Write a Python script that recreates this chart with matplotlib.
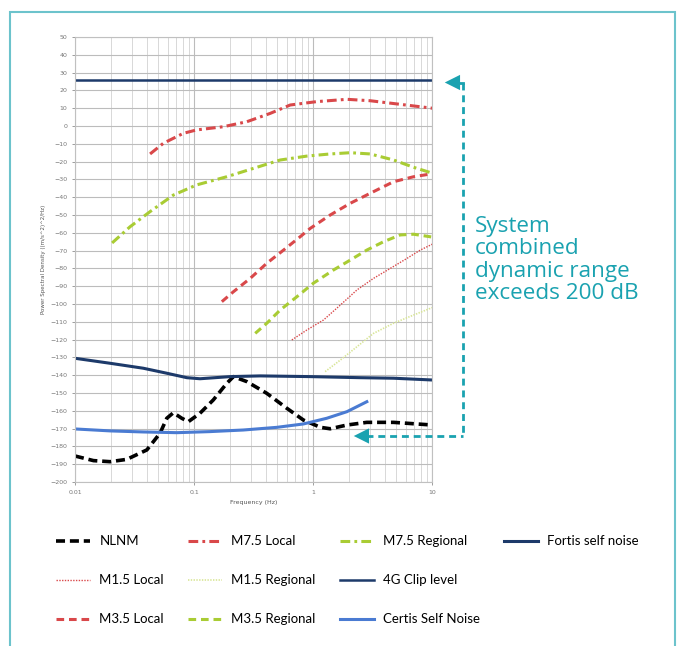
import matplotlib.pyplot as plt
from matplotlib.lines import Line2D
from matplotlib.patches import Rectangle
from matplotlib.ticker import FixedLocator, NullFormatter, LogLocator

plt.rcParams['lines.scale_dashes'] = False

# frequency (Hz) and PSD (dB)
nlnm_f = [0.01, 0.0143, 0.0197, 0.0272, 0.0401, 0.0518, 0.059, 0.067, 0.0788, 0.0896,
          0.112, 0.145, 0.188, 0.214, 0.277, 0.408, 0.601, 0.828, 1.15, 1.39, 1.92,
          2.82, 4.73, 10]
nlnm_db = [-185.4, -188.0, -188.6, -187.3, -182.0, -172.6, -164.2, -161.1, -164.2, -166.1,
           -161.4, -153.9, -144.6, -140.8, -143.6, -150.2, -158.6, -165.2, -169.3, -170.1,
           -168.0, -166.5, -166.5, -168.0]

m75_local_f = [0.0427, 0.0552, 0.0813, 0.105, 0.176, 0.277, 0.436, 0.641, 1.07, 1.92,
               3.01, 5.05, 10]
m75_local_db = [-15.7, -9.7, -4.1, -2.2, -0.4, 2.4, 7.1, 11.8, 13.7, 15.0, 14.2, 12.4, 10.0]

m75_reg_f = [0.0205, 0.029, 0.0427, 0.067, 0.105, 0.188, 0.315, 0.528, 0.885, 1.39,
             2.05, 3.01, 4.73, 6.97, 10]
m75_reg_db = [-65.7, -56.6, -48.1, -38.8, -33.1, -28.5, -23.8, -19.1, -16.9, -15.7,
              -15.0, -15.7, -19.1, -23.2, -26.5]

m35_local_f = [0.171, 0.214, 0.296, 0.408, 0.564, 0.778, 0.945, 1.39, 2.05, 3.01,
               4.73, 6.97, 10]
m35_local_db = [-98.7, -93.1, -85.6, -77.1, -69.7, -62.2, -57.5, -50.0, -43.4, -37.8,
                -31.3, -28.5, -26.8]

m35_reg_f = [0.326, 0.408, 0.528, 0.73, 1.0, 1.48, 2.05, 2.82, 3.9, 5.38, 6.97, 10]
m35_reg_db = [-116.5, -110.8, -103.4, -95.9, -88.4, -80.9, -75.3, -69.7, -65.0, -61.2,
              -60.8, -62.4]

m15_local_f = [0.662, 0.885, 1.22, 1.69, 2.33, 3.21, 4.44, 6.12, 7.93, 10]
m15_local_db = [-120.2, -114.6, -109.0, -100.6, -92.1, -85.6, -80.0, -74.4, -69.7, -66.4]

m15_reg_f = [1.26, 1.69, 2.33, 3.21, 4.73, 6.97, 10]
m15_reg_db = [-138.0, -131.5, -124.0, -116.5, -110.8, -106.2, -102.0]

fortis_f = [0.01, 0.0197, 0.0375, 0.059, 0.0869, 0.112, 0.201, 0.359, 0.945, 2.48, 4.73, 10]
fortis_db = [-130.5, -133.3, -136.1, -138.9, -141.4, -142.0, -140.8, -140.4, -140.8,
             -141.4, -141.7, -142.7]

clip_f = [0.01, 10]
clip_db = [26, 26]

certis_f = [0.01, 0.0197, 0.0375, 0.0716, 0.136, 0.259, 0.495, 0.828, 1.30, 1.92, 2.82]
certis_db = [-170.2, -171.3, -171.9, -172.3, -171.7, -170.8, -169.3, -167.4, -164.2,
             -160.5, -154.9]

red = '#d9484a'
green = '#a9cc34'
pale_green = '#d8e596'
navy = '#1d3a6a'
blue = '#4a7bd2'
teal = '#1aa2b0'

fig = plt.figure(figsize=(6.78, 6.46), dpi=100)
ax = fig.add_axes([0.1106, 0.2539, 0.527, 0.6888])

ax.plot(nlnm_f, nlnm_db, color='black', lw=2.6, ls=(0, (6.5, 3.5)), label='NLNM')
ax.plot(m15_local_f, m15_local_db, color=red, lw=1.0, ls=(0, (1, 1)), label='M1.5 Local')
ax.plot(m35_local_f, m35_local_db, color=red, lw=2.2, ls=(0, (5.5, 3.5)), label='M3.5 Local')
ax.plot(m75_local_f, m75_local_db, color=red, lw=2.2, ls=(0, (7, 3, 2, 3)), label='M7.5 Local')
ax.plot(m15_reg_f, m15_reg_db, color=pale_green, lw=1.2, ls=(0, (1, 1)), label='M1.5 Regional')
ax.plot(m35_reg_f, m35_reg_db, color=green, lw=2.2, ls=(0, (5.5, 3.5)), label='M3.5 Regional')
ax.plot(m75_reg_f, m75_reg_db, color=green, lw=2.2, ls=(0, (7, 3, 2, 3)), label='M7.5 Regional')
ax.plot(clip_f, clip_db, color=navy, lw=1.8, label='4G Clip level')
ax.plot(certis_f, certis_db, color=blue, lw=2.2, label='Certis Self Noise')
ax.plot(fortis_f, fortis_db, color=navy, lw=2.2, label='Fortis self noise')

ax.set_xscale('log')
ax.set_xlim(0.01, 10)
ax.set_ylim(-200, 50)
ax.set_xticks([0.01, 0.1, 1, 10])
ax.set_xticklabels(['0.01', '0.1', '1', '10'])
ax.xaxis.set_minor_locator(LogLocator(base=10, subs=range(2, 10)))
ax.xaxis.set_minor_formatter(NullFormatter())
ax.yaxis.set_major_locator(FixedLocator(range(-200, 51, 10)))
ax.grid(True, which='major', color='#bcbcbc', lw=0.8)
ax.grid(True, which='minor', axis='x', color='#d2d2d2', lw=0.6)
ax.tick_params(labelsize=4.5, colors='#777777', length=2, width=0.5)
ax.tick_params(which='minor', length=0)
for s in ax.spines.values():
    s.set_color('#c0c0c0')
    s.set_linewidth(0.8)
ax.set_xlabel('Frequency (Hz)', fontsize=4.5, color='#555555', labelpad=4)
ax.set_ylabel('Power Spectral Density ((m/s^2)^2/Hz)', fontsize=4, color='#555555', labelpad=3)

# legend: 4 columns filled top-down, two empty slots in the last column
h, l = ax.get_legend_handles_labels()
blank = Line2D([], [], color='none')
h = h + [blank, blank]
l = l + ['', '']
fig.legend(h, l, loc='upper left', bbox_to_anchor=(0.065, 0.19), ncol=4,
           frameon=False, handlelength=2.6, handletextpad=0.7, columnspacing=1.8,
           labelspacing=2.05, prop={'family': 'Lato', 'size': 9.5})

# teal frame
fig.patches.append(Rectangle((10 / 678, -0.1), 665 / 678, 1.1 - 12 / 646,
                             transform=fig.transFigure, fill=False, ec='#6cc3cc', lw=1.5))

# dynamic range annotation (figure pixels, origin bottom left)
H = 646
fig.add_artist(Line2D([463, 463], [H - 82.5, H - 436], transform=None, color=teal, lw=2,
                      ls=(0, (5, 3.5))))
fig.add_artist(Line2D([366, 463], [H - 436, H - 436], transform=None, color=teal, lw=2,
                      ls=(0, (5, 3.5))))
fig.add_artist(Line2D([456, 463], [H - 82.5, H - 82.5], transform=None, color=teal, lw=2))
ax.annotate('', xy=(442, H - 82.5), xytext=(457, H - 82.5), xycoords='figure pixels',
            arrowprops=dict(arrowstyle='-|>,head_length=1.1,head_width=0.55', color=teal, lw=0))
ax.annotate('', xy=(351, H - 436), xytext=(367, H - 436), xycoords='figure pixels',
            arrowprops=dict(arrowstyle='-|>,head_length=1.1,head_width=0.55', color=teal, lw=0))
fig.text(475 / 678, 1 - 216 / 646, 'System\ncombined\ndynamic range\nexceeds 200 dB',
         color=teal, fontsize=16.2, family='Open Sans', va='top', ha='left', linespacing=1.08)

fig.savefig('out.png', dpi=100)
